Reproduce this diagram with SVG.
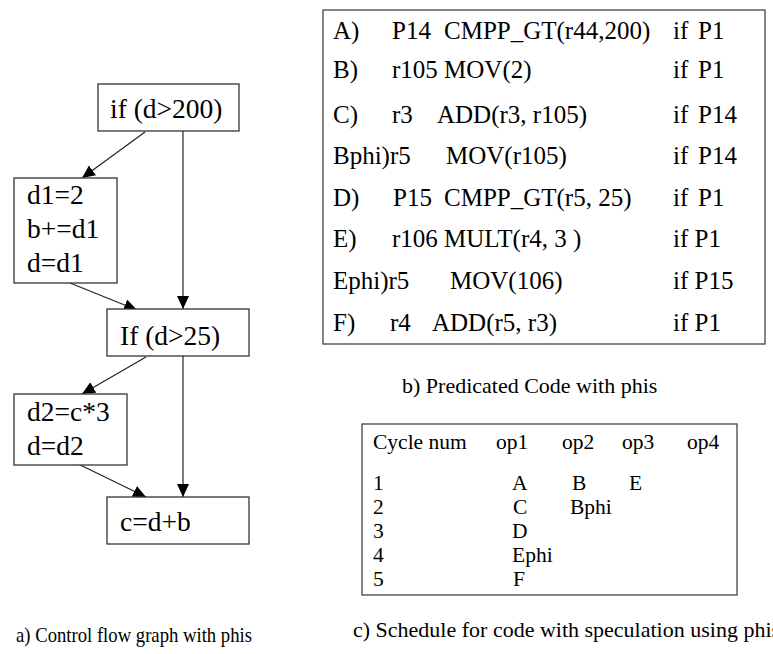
<svg xmlns="http://www.w3.org/2000/svg" width="773" height="654" viewBox="0 0 773 654">
  <defs>
    <marker id="head" markerUnits="userSpaceOnUse" markerWidth="14" markerHeight="13" refX="13" refY="6" orient="auto">
      <path d="M0,0 L13,6 L0,12 z" fill="#000"/>
    </marker>
    <style>
      text { font-family: 'Liberation Serif', 'DejaVu Serif', 'Times New Roman', serif; fill: #000; }
      .box { fill: #fff; stroke: #333; stroke-width: 1.3; }
      .frame { fill: none; stroke: #444; stroke-width: 1.3; }
      .edge { stroke: #222; stroke-width: 1.2; fill: none; marker-end: url(#head); }
      .cfg { font-size: 27.5px; }
      .code { font-size: 25px; }
      .sched { font-size: 21.5px; }
      .cap { font-size: 22px; }
    </style>
  </defs>

  <rect width="773" height="654" fill="#fff"/>

  <!-- control flow graph edges -->
  <g id="edges">
    <line class="edge" x1="145" y1="132" x2="82" y2="178"/>
    <line class="edge" x1="183" y1="131" x2="183" y2="309"/>
    <line class="edge" x1="70" y1="283" x2="137" y2="310"/>
    <line class="edge" x1="146" y1="357" x2="82" y2="394"/>
    <line class="edge" x1="183" y1="356" x2="183" y2="497"/>
    <line class="edge" x1="70" y1="460" x2="146" y2="497"/>
  </g>

  <!-- control flow graph blocks -->
  <g id="n_if200">
    <rect class="box" x="98" y="84" width="141" height="47"/>
    <text class="cfg" x="110" y="118">if (d&gt;200)</text>
  </g>
  <g id="n_d1">
    <rect class="box" x="14" y="178" width="103" height="105"/>
    <text class="cfg" x="27" y="204">d1=2</text>
    <text class="cfg" x="27" y="238">b+=d1</text>
    <text class="cfg" x="27" y="272">d=d1</text>
  </g>
  <g id="n_if25">
    <rect class="box" x="107" y="309" width="142" height="47"/>
    <text class="cfg" x="120" y="345">If (d&gt;25)</text>
  </g>
  <g id="n_d2">
    <rect class="box" x="14" y="394" width="113" height="71"/>
    <text class="cfg" x="27" y="421">d2=c*3</text>
    <text class="cfg" x="27" y="455">d=d2</text>
  </g>
  <g id="n_join">
    <rect class="box" x="107" y="497" width="142" height="47"/>
    <text class="cfg" x="120" y="531">c=d+b</text>
  </g>

  <!-- predicated code listing -->
  <g id="code">
    <rect class="frame" x="323" y="10" width="442" height="334"/>
    <g class="code">
      <text x="333" y="39">A)</text>
      <text x="392" y="39">P14</text>
      <text x="444" y="39">CMPP_GT(r44,200)</text>
      <text x="673" y="39">if</text>
      <text x="698" y="39">P1</text>

      <text x="333" y="78">B)</text>
      <text x="392" y="78">r105 MOV(2)</text>
      <text x="673" y="78">if</text>
      <text x="698" y="78">P1</text>

      <text x="333" y="123">C)</text>
      <text x="392" y="123">r3</text>
      <text x="437" y="123">ADD(r3, r105)</text>
      <text x="673" y="123">if</text>
      <text x="698" y="123">P14</text>

      <text x="333" y="164">Bphi)r5</text>
      <text x="446" y="164">MOV(r105)</text>
      <text x="673" y="164">if</text>
      <text x="698" y="164">P14</text>

      <text x="333" y="206">D)</text>
      <text x="393" y="206">P15</text>
      <text x="444" y="206">CMPP_GT(r5, 25)</text>
      <text x="673" y="206">if</text>
      <text x="698" y="206">P1</text>

      <text x="333" y="247">E)</text>
      <text x="392" y="247">r106 MULT(r4, 3 )</text>
      <text x="673" y="247">if P1</text>

      <text x="333" y="289">Ephi)r5</text>
      <text x="450" y="289">MOV(106)</text>
      <text x="673" y="289">if P15</text>

      <text x="333" y="331">F)</text>
      <text x="390" y="331">r4</text>
      <text x="432" y="331">ADD(r5, r3)</text>
      <text x="673" y="331">if P1</text>
    </g>
  </g>

  <!-- schedule table -->
  <g id="schedule">
    <rect class="frame" x="362" y="424" width="375" height="171"/>
    <g class="sched">
      <text x="373" y="449">Cycle num</text>
      <text x="496" y="449">op1</text>
      <text x="562" y="449">op2</text>
      <text x="622" y="449">op3</text>
      <text x="687" y="449">op4</text>

      <text x="373" y="490">1</text>
      <text x="512" y="490">A</text>
      <text x="572" y="490">B</text>
      <text x="629" y="490">E</text>

      <text x="373" y="514">2</text>
      <text x="513" y="514">C</text>
      <text x="570" y="514">Bphi</text>

      <text x="373" y="538">3</text>
      <text x="512" y="538">D</text>

      <text x="373" y="562">4</text>
      <text x="512" y="562">Ephi</text>

      <text x="373" y="586">5</text>
      <text x="513" y="586">F</text>
    </g>
  </g>

  <!-- captions -->
  <g id="captions" class="cap">
    <text x="16" y="642" textLength="236" lengthAdjust="spacingAndGlyphs">a) Control flow graph with phis</text>
    <text x="402" y="393">b) Predicated Code with phis</text>
    <text x="353" y="637">c) Schedule for code with speculation using phis</text>
  </g>
</svg>
